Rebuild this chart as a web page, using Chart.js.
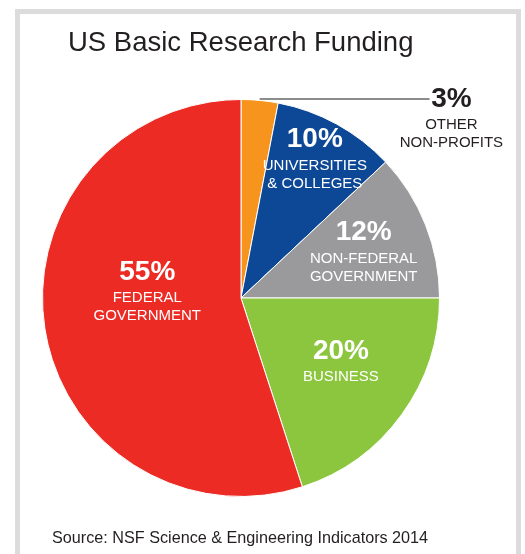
<!DOCTYPE html>
<html>
<head>
<meta charset="utf-8">
<script src="https://cdn.jsdelivr.net/npm/chart.js@4/dist/chart.umd.min.js"></script>
<style>
  html, body { margin: 0; padding: 0; background: #fff; }
  #wrap { position: relative; width: 525px; height: 554px; overflow: hidden; font-family: "Liberation Sans", Arial, sans-serif; }
  #frame { position: absolute; left: 15px; top: 9px; width: 496px; height: 600px; border: 5px solid #dcdcdc; }
  #chart { position: absolute; left: 0; top: 0; }
  #title { position: absolute; left: 68px; top: 26px; font-size: 27.5px; color: #231f20; white-space: nowrap; }
  #source { position: absolute; left: 52px; top: 528px; font-size: 16.2px; color: #231f20; white-space: nowrap; }
</style>
</head>
<body>
<div id="wrap">
  <div id="frame"></div>
  <canvas id="chart" width="525" height="554"></canvas>
  <div id="title">US Basic Research Funding</div>
  <div id="source">Source: NSF Science &amp; Engineering Indicators 2014</div>
</div>
<script>
// shares of US basic research funding, clockwise from the top
const categories = ['Other non-profits', 'Universities & colleges', 'Non-federal government', 'Business', 'Federal government'];
const shares = [3, 10, 12, 20, 55];
const labelLines = [
    ['OTHER', 'NON-PROFITS'],
    ['UNIVERSITIES', '& COLLEGES'],
    ['NON-FEDERAL', 'GOVERNMENT'],
    ['BUSINESS'],
    ['FEDERAL', 'GOVERNMENT']
];
const sliceColors = ['#f7941e', '#0c4896', '#9a9a9c', '#8cc63f', '#ec2b25'];

// where each label sits inside its slice: [degrees clockwise from top, fraction of radius]
const labelAnchors = [null, [25, 0.88], [62, 0.70], [118, 0.57], [285.5, 0.49]];

const sliceLabels = {
    id: 'sliceLabels',
    afterDatasetsDraw(chart) {
        const ctx = chart.ctx;
        const meta = chart.getDatasetMeta(0);
        const first = meta.data[0].getProps(['x', 'y', 'outerRadius', 'startAngle', 'endAngle'], true);
        const cx = first.x, cy = first.y, R = first.outerRadius;
        ctx.save();
        ctx.textAlign = 'center';
        ctx.textBaseline = 'middle';

        const drawBlock = (x, y, i, color) => {
            ctx.fillStyle = color;
            ctx.font = 'bold 28px "Liberation Sans", Arial, sans-serif';
            ctx.fillText(shares[i] + '%', x, y);
            ctx.font = '15px "Liberation Sans", Arial, sans-serif';
            labelLines[i].forEach((line, k) => {
                ctx.fillText(line, x, y + 26 + k * 18);
            });
        };

        // small slice: leader line out to the right
        const mid = (first.startAngle + first.endAngle) / 2;
        const lineY = cy - R - 0.5;
        ctx.strokeStyle = '#666';
        ctx.lineWidth = 1.5;
        ctx.beginPath();
        ctx.moveTo(cx + R * Math.cos(mid), lineY);
        ctx.lineTo(cx + R * 0.95, lineY);
        ctx.stroke();
        drawBlock(cx + R * 1.06, lineY, 0, '#231f20');

        for (let i = 1; i < shares.length; i++) {
            const [deg, frac] = labelAnchors[i];
            const a = deg * Math.PI / 180;
            drawBlock(cx + R * frac * Math.sin(a), cy - R * frac * Math.cos(a), i, '#ffffff');
        }
        ctx.restore();
    }
};

new Chart(document.getElementById('chart').getContext('2d'), {
    type: 'pie',
    data: {
        labels: categories,
        datasets: [{
            data: shares,
            backgroundColor: sliceColors,
            borderColor: '#ffffff',
            borderWidth: 1
        }]
    },
    options: {
        responsive: false,
        animation: false,
        devicePixelRatio: 1,
        layout: { padding: { left: 42, right: 85, top: 99, bottom: 57 } },
        plugins: {
            legend: { display: false },
            tooltip: { enabled: false },
            title: { display: false }
        }
    },
    plugins: [sliceLabels]
});
</script>
</body>
</html>
